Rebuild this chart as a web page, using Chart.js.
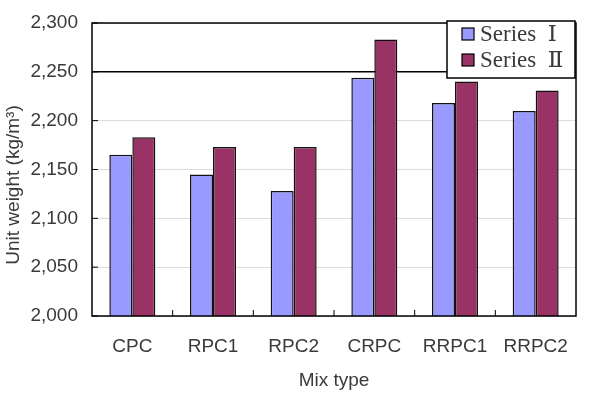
<!DOCTYPE html>
<html>
<head>
<meta charset="utf-8">
<script src="https://cdn.jsdelivr.net/npm/chart.js@4.4.1/dist/chart.umd.min.js"></script>
<style>
    html, body { margin: 0; padding: 0; background: #fff; }
    #wrap { width: 592px; height: 407px; position: relative; }
</style>
</head>
<body>
<div id="wrap"><canvas id="uw_chart"></canvas></div>
<script>
    // chart values
    const mix_types = ['CPC', 'RPC1', 'RPC2', 'CRPC', 'RRPC1', 'RRPC2'];
    const series_names = ['Series  \u2160', 'Series  \u2161'];
    const series_1 = [2165, 2145, 2128, 2244, 2218, 2210];
    const series_2 = [2183, 2173, 2173, 2283, 2240, 2231];
    const y_ticks = [2000, 2050, 2100, 2150, 2200, 2250, 2300];
    const y_title = 'Unit weight (kg/m\u00b3)';

    const colors = ['#9999ff', '#993366'];
    const sans = "'Liberation Sans', Arial, sans-serif";
    const serif = "'Liberation Serif', 'DejaVu Serif', serif";
    const text_color = '#3a3a3a';

    // frame, inside tick marks, y title and boxed legend
    const framePlugin = {
        id: 'frame',
        afterDraw(chart) {
            const ctx = chart.ctx;
            const a = chart.chartArea;
            const xs = chart.scales.x;
            const ys = chart.scales.y;
            ctx.save();
            ctx.strokeStyle = '#000';
            ctx.lineWidth = 1.5;
            ctx.strokeRect(a.left, a.top, a.right - a.left, a.bottom - a.top);
            ctx.lineWidth = 1;
            ctx.beginPath();
            for (let i = 1; i < mix_types.length; i++) {
                const px = (xs.getPixelForValue(i - 1) + xs.getPixelForValue(i)) / 2;
                ctx.moveTo(px, a.bottom);
                ctx.lineTo(px, a.bottom - 6);
            }
            y_ticks.forEach(v => {
                const py = ys.getPixelForValue(v);
                ctx.moveTo(a.left, py);
                ctx.lineTo(a.left + 6, py);
            });
            ctx.stroke();

            // y axis title
            ctx.save();
            ctx.translate(14, 185);
            ctx.rotate(-Math.PI / 2);
            ctx.font = '19px ' + sans;
            ctx.fillStyle = text_color;
            ctx.textAlign = 'center';
            ctx.textBaseline = 'middle';
            ctx.fillText(y_title, 0, 0);
            ctx.restore();

            // legend box
            const lx = 447, ly = 21, lw = 128, lh = 57;
            ctx.fillStyle = '#fff';
            ctx.fillRect(lx, ly, lw, lh);
            ctx.lineWidth = 1.5;
            ctx.strokeStyle = '#000';
            ctx.strokeRect(lx, ly, lw, lh);
            ctx.font = '23px ' + serif;
            ctx.textBaseline = 'middle';
            series_names.forEach((name, i) => {
                const cy = ly + 13 + i * 26;
                ctx.fillStyle = colors[i];
                ctx.fillRect(lx + 15, cy - 6, 12, 12);
                ctx.lineWidth = 1.2;
                ctx.strokeStyle = '#000';
                ctx.strokeRect(lx + 15, cy - 6, 12, 12);
                ctx.fillStyle = text_color;
                ctx.fillText(name, lx + 33, cy + 1);
            });
            ctx.restore();
        }
    };

    const datasets = [series_1, series_2].map((vals, i) => ({
        label: series_names[i],
        data: vals,
        backgroundColor: colors[i],
        borderColor: '#111',
        borderWidth: 1.5,
        borderSkipped: 'bottom',
        barPercentage: 1.0,
        categoryPercentage: 0.57,
    }));

    try {
        let chartCanvas = document.getElementById('uw_chart').getContext('2d');
        let chartObject = new Chart(chartCanvas, {
            type: 'bar',
            data: {
                labels: mix_types,
                datasets: datasets,
            },
            options: {
                responsive: true,
                maintainAspectRatio: false,
                animation: false,
                layout: { padding: { left: 0, right: 16, top: 23, bottom: 0 } },
                plugins: {
                    legend: { display: false },
                    tooltip: { enabled: false },
                },
                scales: {
                    x: {
                        grid: { display: false, drawTicks: false },
                        border: { display: false },
                        ticks: {
                            color: text_color,
                            font: { family: sans, size: 19 },
                            padding: 19,
                        },
                        title: {
                            display: true,
                            text: 'Mix type',
                            color: text_color,
                            font: { family: sans, size: 19 },
                            padding: { top: 0, bottom: 15 },
                        },
                        afterFit(scale) { scale.height = 91; },
                    },
                    y: {
                        min: 2000,
                        max: 2300,
                        afterBuildTicks(scale) {
                            scale.ticks = y_ticks.map(v => ({ value: v }));
                        },
                        grid: {
                            color: ctx => (ctx.tick && ctx.tick.value === 2250) ? '#000' : '#dcdcdc',
                            lineWidth: ctx => (ctx.tick && ctx.tick.value === 2250) ? 1.5 : 1,
                            drawTicks: false,
                        },
                        border: { display: false },
                        ticks: {
                            color: text_color,
                            font: { family: sans, size: 19, lineHeight: 0.5 },
                            padding: 14,
                            callback: v => v.toLocaleString('en-US'),
                        },
                        afterFit(scale) { scale.width = 92; },
                    },
                },
            },
            plugins: [framePlugin],
        });
    } catch (error) {
        console.log(`error: ${error.message}`);
    }
</script>
</body>
</html>
